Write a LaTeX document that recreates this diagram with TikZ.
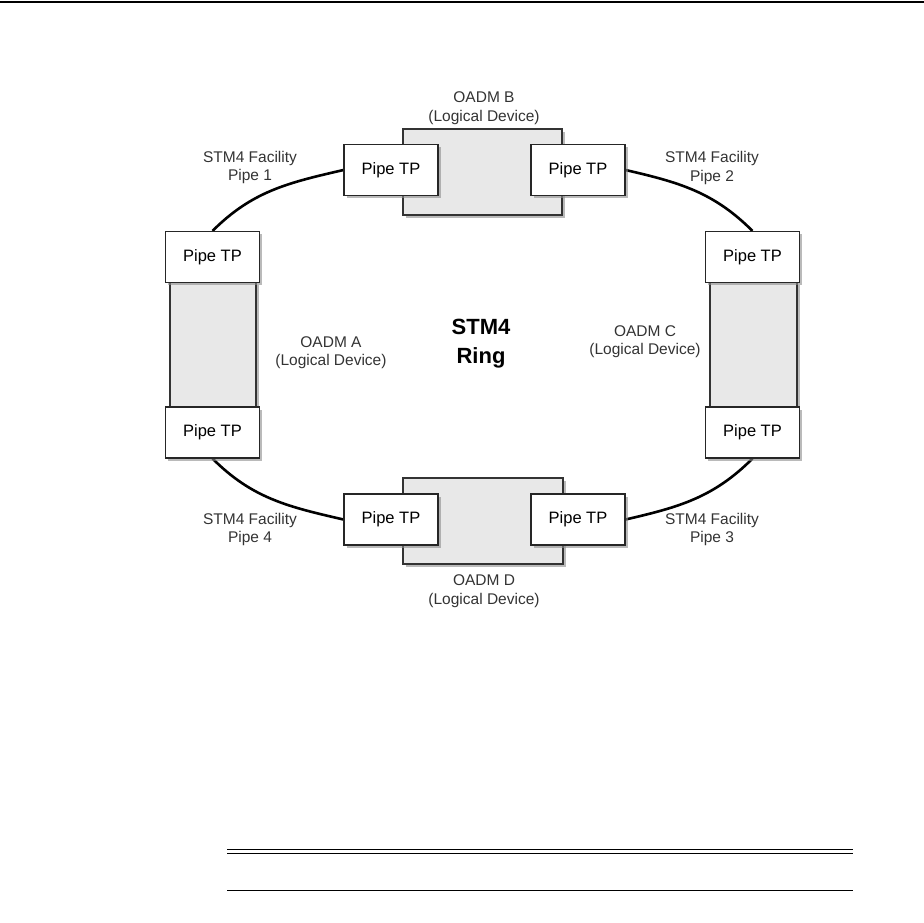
\documentclass[tikz,border=0pt]{standalone}
\usepackage{fontspec}
\setmainfont{Liberation Sans}
\usetikzlibrary{shadows,positioning,backgrounds}

\begin{document}
\begin{tikzpicture}[x=1pt,y=1pt,
    tpbox/.style={draw=black!85,line width=1.1pt,fill=white,minimum width=94pt,minimum height=51pt,inner sep=0pt,
      font=\fontsize{16.5}{19}\selectfont,drop shadow={shadow xshift=2.5pt,shadow yshift=-2.5pt,fill=black!45,opacity=0.6}},
    oadm/.style={draw=black!80,line width=1.1pt,fill=black!9,drop shadow={shadow xshift=2.5pt,shadow yshift=-2.5pt,fill=black!45,opacity=0.6}},
    lbl/.style={align=center,text=black!80,font=\fontsize{15.5}{18.5}\selectfont},
    pipe/.style={line width=2.6pt,black}]
  % STM4 ring of four OADMs
  \useasboundingbox (0,0) rectangle (924,-922);
  \draw[line width=1.5pt] (0,-2) -- (924,-2);

  % termination points
  \node[tpbox] (tpB1) at (391,-170) {Pipe TP};
  \node[tpbox] (tpB2) at (578,-170) {Pipe TP};
  \node[tpbox] (tpA1) at (212.5,-257) {Pipe TP};
  \node[tpbox] (tpA2) at (212.5,-432.5) {Pipe TP};
  \node[tpbox] (tpC1) at (752.5,-257) {Pipe TP};
  \node[tpbox] (tpC2) at (752.5,-432.5) {Pipe TP};
  \node[tpbox] (tpD1) at (391,-519.5) {Pipe TP};
  \node[tpbox] (tpD2) at (578,-519.5) {Pipe TP};

  \begin{scope}[on background layer]
    % facility pipes
    \draw[pipe] (tpB1.west) to[out=193,in=45] (tpA1.north);
    \draw[pipe] (tpB2.east) to[out=-13,in=135] (tpC1.north);
    \draw[pipe] (tpA2.south) to[out=-45,in=167] (tpD1.west);
    \draw[pipe] (tpC2.south) to[out=-135,in=13] (tpD2.east);
    % logical devices
    \draw[oadm] (403,-129) rectangle (562,-215);
    \draw[oadm] (403,-478) rectangle (563,-564);
    \draw[oadm] (170,-282) rectangle (256,-407);
    \draw[oadm] (710,-282) rectangle (797,-407);
  \end{scope}

  % labels
  \node[lbl] (oadmB) at (484,-108) {OADM B\\(Logical Device)};
  \node[lbl] (oadmD) at (484,-591) {OADM D\\(Logical Device)};
  \node[lbl] (oadmA) at (331,-352.5) {OADM A\\(Logical Device)};
  \node[lbl] (oadmC) at (645,-341.5) {OADM C\\(Logical Device)};
  \node[lbl] (pipe1) at (250,-167.5) {STM4 Facility\\Pipe 1};
  \node[lbl] (pipe2) at (712,-168) {STM4 Facility\\Pipe 2};
  \node[lbl] (pipe4) at (250,-529.5) {STM4 Facility\\Pipe 4};
  \node[lbl] (pipe3) at (712,-529.5) {STM4 Facility\\Pipe 3};
  \node[align=center,font=\fontsize{22}{29}\bfseries] (ring) at (481,-344) {STM4\\Ring};

  % note rules
  \draw[line width=1pt] (227,-849) -- (853,-849);
  \draw[line width=1pt] (227,-853) -- (853,-853);
  \draw[line width=1pt] (227,-890) -- (853,-890);
\end{tikzpicture}
\end{document}
